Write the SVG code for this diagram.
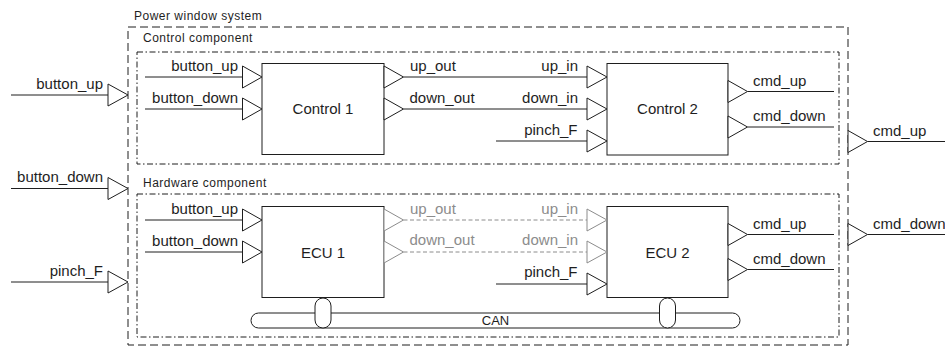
<svg xmlns="http://www.w3.org/2000/svg" width="945" height="348" viewBox="0 0 945 348">
<defs>
<style>
text{font-family:"Liberation Sans",Arial,Helvetica,sans-serif;fill:#1e1e1e}
.port{font-size:15px}
.cont{font-size:12px;letter-spacing:0.5px}
.blk{font-size:15px;text-anchor:middle}
.end{text-anchor:end}
.grey{fill:#8c8c8c}
.box{fill:#fff;stroke:#1e1e1e;stroke-width:1}
.tri{fill:#fff;stroke:#1e1e1e;stroke-width:1;stroke-linejoin:miter}
.tri-g{fill:#fff;stroke:#8c8c8c;stroke-width:1}
.wire{fill:none;stroke:#1e1e1e;stroke-width:1}
.wire-g{fill:none;stroke:#8c8c8c;stroke-width:1;stroke-dasharray:4,2.5}
.outer{fill:none;stroke:#1e1e1e;stroke-width:1;stroke-dasharray:8,4}
.dashdot{fill:none;stroke:#1e1e1e;stroke-width:1;stroke-dasharray:6,2.5,1.5,2.5}
.can{fill:#fff;stroke:#1e1e1e;stroke-width:1}
</style>
</defs>
<rect width="945" height="348" fill="#fff"/>

<g id="power-window-system">
<rect class="outer" x="128" y="27" width="720" height="318"/>
<text class="cont" x="134" y="19.5">Power window system</text>
</g>

<g id="control-component">
<rect class="dashdot" x="137" y="52" width="702" height="112"/>
<text class="cont" x="143" y="42">Control component</text>
</g>

<g id="hardware-component">
<rect class="dashdot" x="137" y="194" width="702" height="143"/>
<text class="cont" x="143" y="186.5">Hardware component</text>
</g>

<g id="connectors">
<!-- external inputs -->
<line class="wire" x1="11" y1="95" x2="108" y2="95"/>
<line class="wire" x1="11" y1="188.5" x2="108" y2="188.5"/>
<line class="wire" x1="11" y1="282" x2="108" y2="282"/>
<!-- control 1 inputs -->
<line class="wire" x1="145" y1="77" x2="242.5" y2="77"/>
<line class="wire" x1="145" y1="109" x2="242.5" y2="109"/>
<!-- control 1 to control 2 -->
<line class="wire" x1="403.5" y1="77" x2="587" y2="77"/>
<line class="wire" x1="403.5" y1="109" x2="587" y2="109"/>
<line class="wire" x1="496" y1="141" x2="587" y2="141"/>
<!-- control 2 outputs -->
<line class="wire" x1="747.5" y1="91.5" x2="834" y2="91.5"/>
<line class="wire" x1="747.5" y1="127" x2="834" y2="127"/>
<!-- external outputs -->
<line class="wire" x1="867.5" y1="141.5" x2="945" y2="141.5"/>
<line class="wire" x1="867.5" y1="234.5" x2="945" y2="234.5"/>
<!-- ECU 1 inputs -->
<line class="wire" x1="145" y1="220" x2="242.5" y2="220"/>
<line class="wire" x1="145" y1="252" x2="242.5" y2="252"/>
<!-- ECU 1 to ECU 2 (grey, dashed) -->
<line class="wire-g" x1="403.5" y1="220" x2="587" y2="220"/>
<line class="wire-g" x1="403.5" y1="252" x2="587" y2="252"/>
<line class="wire" x1="496" y1="284" x2="587" y2="284"/>
<!-- ECU 2 outputs -->
<line class="wire" x1="747.5" y1="234.5" x2="834" y2="234.5"/>
<line class="wire" x1="747.5" y1="269.5" x2="834" y2="269.5"/>
</g>

<g id="ext-inputs">
<polygon class="tri" points="108,84 128,95 108,106"/>
<text class="port end" x="103" y="89">button_up</text>
<polygon class="tri" points="108,177.5 128,188.5 108,199.5"/>
<text class="port end" x="103" y="182">button_down</text>
<polygon class="tri" points="108,271 128,282 108,293"/>
<text class="port end" x="103" y="276">pinch_F</text>
</g>

<g id="ext-outputs">
<polygon class="tri" points="848,130.5 867.5,141.5 848,152.5"/>
<text class="port" x="873" y="136">cmd_up</text>
<polygon class="tri" points="848,223.5 867.5,234.5 848,245.5"/>
<text class="port" x="873" y="228.5">cmd_down</text>
</g>

<g id="control-1">
<rect class="box" x="262" y="63.5" width="122" height="91"/>
<text class="blk" x="323" y="114">Control 1</text>
<polygon class="tri" points="242.5,66 262,77 242.5,88"/>
<polygon class="tri" points="242.5,98 262,109 242.5,120"/>
<text class="port end" x="238" y="71">button_up</text>
<text class="port end" x="238" y="102.5">button_down</text>
<polygon class="tri" points="384,66 403.5,77 384,88"/>
<polygon class="tri" points="384,98 403.5,109 384,120"/>
<text class="port" x="410" y="71">up_out</text>
<text class="port" x="409.5" y="103">down_out</text>
</g>

<g id="control-2">
<rect class="box" x="607" y="63.5" width="121" height="91.5"/>
<text class="blk" x="667.5" y="114">Control 2</text>
<polygon class="tri" points="587,66 607,77 587,88"/>
<polygon class="tri" points="587,98 607,109 587,120"/>
<polygon class="tri" points="587,130 607,141 587,152"/>
<text class="port end" x="578" y="71">up_in</text>
<text class="port end" x="578" y="103">down_in</text>
<text class="port end" x="577.5" y="135">pinch_F</text>
<polygon class="tri" points="728,80.5 747.5,91.5 728,102.5"/>
<polygon class="tri" points="728,116 747.5,127 728,138"/>
<text class="port" x="753" y="85.5">cmd_up</text>
<text class="port" x="753" y="121">cmd_down</text>
</g>

<g id="can-bus">
<rect class="can" x="251" y="313" width="489" height="15" rx="7.5" ry="7.5"/>
<text x="495.5" y="325" style="font-size:13px;text-anchor:middle">CAN</text>
</g>

<g id="ecu-1">
<rect class="box" x="262" y="206.5" width="122" height="91"/>
<text class="blk" x="323" y="257.5">ECU 1</text>
<polygon class="tri" points="242.5,209 262,220 242.5,231"/>
<polygon class="tri" points="242.5,241 262,252 242.5,263"/>
<text class="port end" x="238" y="214">button_up</text>
<text class="port end" x="238" y="246">button_down</text>
<polygon class="tri-g" points="384,209 403.5,220 384,231"/>
<polygon class="tri-g" points="384,241 403.5,252 384,263"/>
<text class="port grey" x="410" y="213.5">up_out</text>
<text class="port grey" x="409.5" y="245">down_out</text>
<rect class="can" x="315" y="298" width="16" height="30" rx="8" ry="8"/>
</g>

<g id="ecu-2">
<rect class="box" x="607" y="206.5" width="121" height="91"/>
<text class="blk" x="667.5" y="257.5">ECU 2</text>
<polygon class="tri-g" points="587,209 607,220 587,231"/>
<polygon class="tri-g" points="587,241 607,252 587,263"/>
<polygon class="tri" points="587,273 607,284 587,295"/>
<text class="port grey end" x="578" y="213.5">up_in</text>
<text class="port grey end" x="578" y="245">down_in</text>
<text class="port end" x="577.5" y="277">pinch_F</text>
<polygon class="tri" points="728,223.5 747.5,234.5 728,245.5"/>
<polygon class="tri" points="728,258.5 747.5,269.5 728,280.5"/>
<text class="port" x="753" y="228.5">cmd_up</text>
<text class="port" x="753" y="263.5">cmd_down</text>
<rect class="can" x="659.5" y="298" width="16" height="30" rx="8" ry="8"/>
</g>
</svg>
